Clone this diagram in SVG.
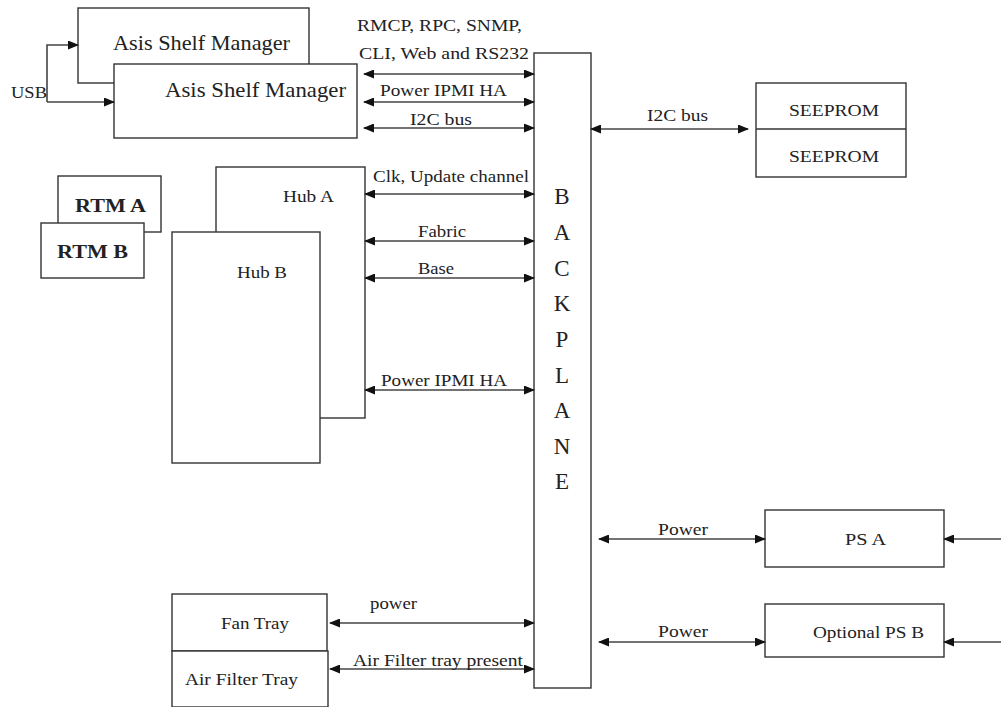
<svg xmlns="http://www.w3.org/2000/svg" width="1001" height="707" viewBox="0 0 1001 707" font-family="Liberation Serif, serif">
<defs>
<marker id="ah" markerWidth="11" markerHeight="9" refX="10" refY="4.5" orient="auto-start-reverse" markerUnits="userSpaceOnUse">
<path d="M0,0 L11,4.5 L0,9 z" fill="#111"/>
</marker>
<style>
.box{fill:#fff;stroke:#333;stroke-width:1.4}
text{fill:#222}
.big{font-size:21px}
.lab{font-size:17px}
.bp{font-size:23px;text-anchor:middle}
.c{fill:none;stroke:#444;stroke-width:1.6}
.ab{marker-start:url(#ah);marker-end:url(#ah)}
.ae{marker-end:url(#ah)}
</style>
</defs>
<rect width="1001" height="707" fill="#fff"/>

<g id="shelf-manager-a">
<rect class="box" x="78" y="8" width="231" height="75"/>
<text class="big" x="113" y="50" textLength="177" lengthAdjust="spacingAndGlyphs">Asis Shelf Manager</text>
</g>
<g id="shelf-manager-b">
<rect class="box" x="114" y="64" width="243" height="74"/>
<text class="big" x="165" y="97" textLength="181" lengthAdjust="spacingAndGlyphs">Asis Shelf Manager</text>
</g>
<g id="usb-label"><text class="lab" x="11" y="98" textLength="36" lengthAdjust="spacingAndGlyphs">USB</text></g>

<g id="rtm-a">
<rect class="box" x="58" y="176" width="103" height="56"/>
<text font-size="19" font-weight="bold" x="75" y="212" textLength="71" lengthAdjust="spacingAndGlyphs">RTM A</text>
</g>
<g id="rtm-b">
<rect class="box" x="41" y="223" width="103" height="55"/>
<text font-size="19" font-weight="bold" x="57" y="258" textLength="71" lengthAdjust="spacingAndGlyphs">RTM B</text>
</g>

<g id="hub-a">
<rect class="box" x="216" y="167" width="149" height="251"/>
<text class="lab" x="283" y="202" textLength="51" lengthAdjust="spacingAndGlyphs">Hub A</text>
</g>
<g id="hub-b">
<rect class="box" x="172" y="232" width="148" height="231"/>
<text class="lab" x="237" y="278" textLength="50" lengthAdjust="spacingAndGlyphs">Hub B</text>
</g>

<g id="backplane">
<rect class="box" x="534" y="53" width="57" height="635"/>
<text class="bp" x="562" y="204">B</text>
<text class="bp" x="562" y="240">A</text>
<text class="bp" x="562" y="276">C</text>
<text class="bp" x="562" y="311">K</text>
<text class="bp" x="562" y="347">P</text>
<text class="bp" x="562" y="383">L</text>
<text class="bp" x="562" y="418">A</text>
<text class="bp" x="562" y="454">N</text>
<text class="bp" x="562" y="489">E</text>
</g>

<g id="seeprom">
<rect class="box" x="756" y="83" width="150" height="94"/>
<line x1="756" y1="129" x2="906" y2="129" stroke="#333" stroke-width="1.4"/>
<text class="lab" x="789" y="116" textLength="90" lengthAdjust="spacingAndGlyphs">SEEPROM</text>
<text class="lab" x="789" y="162" textLength="90" lengthAdjust="spacingAndGlyphs">SEEPROM</text>
</g>

<g id="ps-a">
<rect class="box" x="765" y="510" width="179" height="57"/>
<text class="lab" x="845" y="545" textLength="41" lengthAdjust="spacingAndGlyphs">PS A</text>
</g>
<g id="ps-b">
<rect class="box" x="765" y="604" width="179" height="53"/>
<text class="lab" x="813" y="638" textLength="111" lengthAdjust="spacingAndGlyphs">Optional PS B</text>
</g>

<g id="fan-tray">
<rect class="box" x="172" y="594" width="155" height="57"/>
<text class="lab" x="221" y="629" textLength="68" lengthAdjust="spacingAndGlyphs">Fan Tray</text>
</g>
<g id="air-filter-tray">
<rect class="box" x="172" y="651" width="156" height="56"/>
<text class="lab" x="185" y="685" textLength="113" lengthAdjust="spacingAndGlyphs">Air Filter Tray</text>
</g>

<g id="connectors">
<path class="c ae" d="M47,102 V45 H78"/>
<path class="c ae" d="M47,102 H114"/>
<line class="c ab" x1="364" y1="74" x2="534" y2="74"/>
<line class="c ab" x1="364" y1="102" x2="534" y2="102"/>
<line class="c ab" x1="364" y1="128" x2="534" y2="128"/>
<line class="c ab" x1="365" y1="194" x2="534" y2="194"/>
<line class="c ab" x1="365" y1="241" x2="534" y2="241"/>
<line class="c ab" x1="365" y1="278" x2="534" y2="278"/>
<line class="c ab" x1="365" y1="390" x2="534" y2="390"/>
<line class="c ab" x1="591" y1="129" x2="748" y2="129"/>
<line class="c ab" x1="599" y1="539" x2="765" y2="539"/>
<line class="c ab" x1="599" y1="642" x2="765" y2="642"/>
<line class="c ae" x1="1001" y1="539" x2="944" y2="539"/>
<line class="c ae" x1="1001" y1="642" x2="944" y2="642"/>
<line class="c ab" x1="330" y1="623" x2="534" y2="623"/>
<line class="c ab" x1="330" y1="669" x2="534" y2="669"/>
<g id="connector-labels">
<text class="lab" x="357" y="31" textLength="165" lengthAdjust="spacingAndGlyphs">RMCP, RPC, SNMP,</text>
<text class="lab" x="359" y="59" textLength="170" lengthAdjust="spacingAndGlyphs">CLI, Web and RS232</text>
<text class="lab" x="380" y="96" textLength="127" lengthAdjust="spacingAndGlyphs">Power IPMI HA</text>
<text class="lab" x="410" y="125" textLength="62" lengthAdjust="spacingAndGlyphs">I2C bus</text>
<text class="lab" x="373" y="182" textLength="156" lengthAdjust="spacingAndGlyphs">Clk, Update channel</text>
<text class="lab" x="418" y="237" textLength="48" lengthAdjust="spacingAndGlyphs">Fabric</text>
<text class="lab" x="418" y="274" textLength="36" lengthAdjust="spacingAndGlyphs">Base</text>
<text class="lab" x="381" y="386" textLength="126" lengthAdjust="spacingAndGlyphs">Power IPMI HA</text>
<text class="lab" x="647" y="121" textLength="61" lengthAdjust="spacingAndGlyphs">I2C bus</text>
<text class="lab" x="658" y="535" textLength="50" lengthAdjust="spacingAndGlyphs">Power</text>
<text class="lab" x="658" y="637" textLength="50" lengthAdjust="spacingAndGlyphs">Power</text>
<text class="lab" x="370" y="609" textLength="47" lengthAdjust="spacingAndGlyphs">power</text>
<text class="lab" x="353" y="666" textLength="170" lengthAdjust="spacingAndGlyphs">Air Filter tray present</text>
</g>
</g>
</svg>
